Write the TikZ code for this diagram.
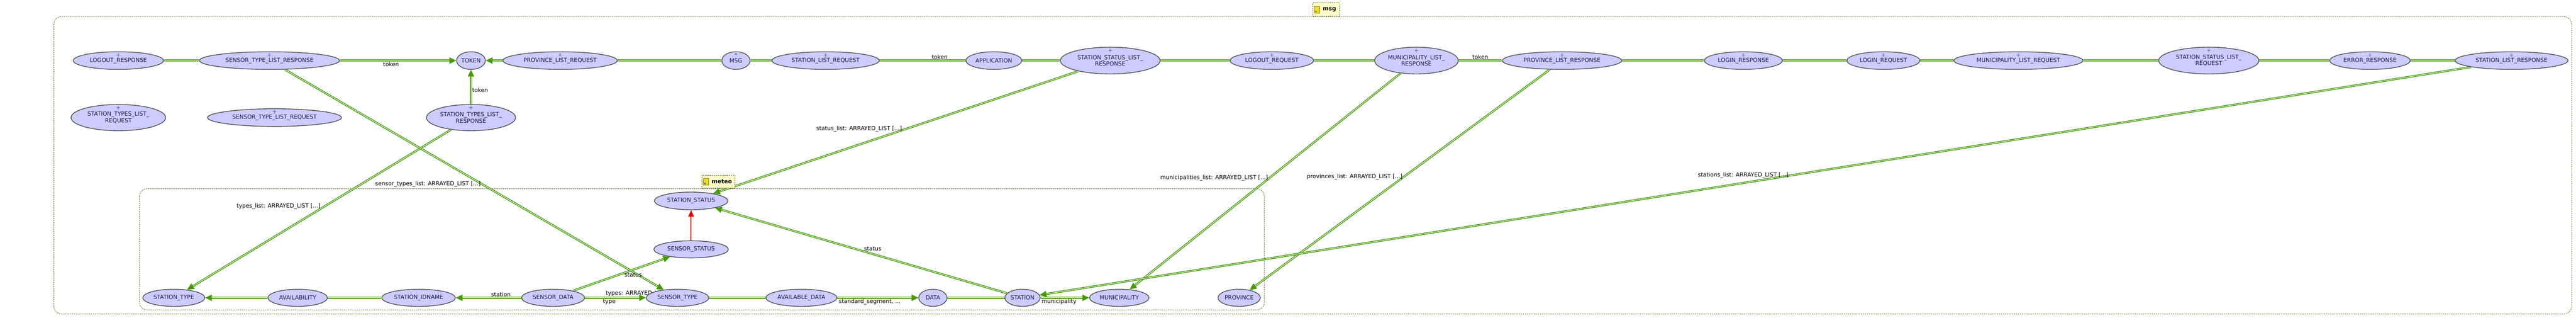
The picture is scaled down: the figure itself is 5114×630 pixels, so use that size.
\documentclass[tikz,border=0pt]{standalone}
\usepackage{fontspec}
\setmainfont{DejaVu Sans}
\usetikzlibrary{shapes.geometric,arrows.meta,backgrounds}

\definecolor{classFill}{RGB}{204,204,255}
\definecolor{classLine}{RGB}{77,77,77}
\definecolor{classText}{RGB}{25,25,85}
\definecolor{markBlue}{RGB}{60,90,180}
\definecolor{linkGreen}{RGB}{68,155,8}
\definecolor{inheritRed}{RGB}{224,0,0}
\definecolor{clusterLine}{RGB}{100,100,20}
\definecolor{tabFill}{RGB}{255,255,204}
\definecolor{folderYellow}{RGB}{240,220,40}
\definecolor{folderLine}{RGB}{150,130,20}

\newcommand\umlfont{\fontsize{6.4}{7.3}\selectfont}
\newcommand\foldericon[1]{%
  \draw[fill=folderYellow, draw=folderLine, line width=0.3pt] ([xshift=0.7mm,yshift=-1.3mm]#1.west) rectangle ++(2mm,2.6mm);
  \fill[markBlue] ([xshift=1.3mm,yshift=-0.7mm]#1.west) circle (0.35mm);}

\tikzset{
  cls/.style={ellipse, draw=classLine, fill=classFill, line width=0.8pt, text=classText, font=\umlfont, inner sep=0.5pt, align=center},
  plusmark/.style={text=markBlue, font=\umlfont, inner sep=0pt},
  link/.style={draw=linkGreen, double=white, double distance=0.55pt, line width=0.85pt},
  ref/.style={link, -{Triangle[length=2.7mm, width=2.5mm]}},
  inherit/.style={draw=inheritRed, line width=1.1pt, -{Triangle[length=2.6mm, width=2.2mm]}},
  elabel/.style={font=\umlfont, text=black, inner sep=1pt},
  cluster/.style={draw=clusterLine, dash pattern=on 1.4pt off 1pt, line width=0.5pt, rounded corners=3mm},
  clustertab/.style={draw=clusterLine, dash pattern=on 1.4pt off 1pt, line width=0.5pt, fill=tabFill, font=\umlfont\bfseries, anchor=south west, inner sep=1pt, align=right},
}

\begin{document}
\begin{tikzpicture}[x=0.2mm, y=-0.2mm]
\useasboundingbox (0,0) rectangle (5114,630);

%% classes: name / x / y / width / height / marker / text
\foreach \Name/\X/\Y/\W/\H/\Mark/\Text in {%
    logoutResp/235/120/179/35/+/{LOGOUT\_RESPONSE},
    sensorTypeListResp/535/120/278/35/+/{SENSOR\_TYPE\_LIST\_RESPONSE},
    token/935/120/57/35/{}/{TOKEN},
    provListReq/1112/120/227/35/+/{PROVINCE\_LIST\_REQUEST},
    msg/1461/120/56/35/*/{MSG},
    stationListReq/1639/120/213/35/+/{STATION\_LIST\_REQUEST},
    application/1973/120/111/35/{}/{APPLICATION},
    stationStatusListResp/2204/120/198/53/+/{STATION\_STATUS\_LIST\_\\RESPONSE},
    logoutReq/2525/120/166/35/+/{LOGOUT\_REQUEST},
    muniListResp/2812/120/166/53/+/{MUNICIPALITY\_LIST\_\\RESPONSE},
    provListResp/3101/120/237/35/+/{PROVINCE\_LIST\_RESPONSE},
    loginResp/3461/120/155/35/+/{LOGIN\_RESPONSE},
    loginReq/3739/120/145/35/+/{LOGIN\_REQUEST},
    muniListReq/4007/120/256/35/+/{MUNICIPALITY\_LIST\_REQUEST},
    stationStatusListReq/4385/120/199/53/+/{STATION\_STATUS\_LIST\_\\REQUEST},
    errorResp/4705/120/160/35/+/{ERROR\_RESPONSE},
    stationListResp/4986/120/224/35/+/{STATION\_LIST\_RESPONSE},
    stationTypesListReq/235/233/188/52/+/{STATION\_TYPES\_LIST\_\\REQUEST},
    sensorTypeListReq/545/233/266/35/+/{SENSOR\_TYPE\_LIST\_REQUEST},
    stationTypesListResp/935/233/177/52/+/{STATION\_TYPES\_LIST\_\\RESPONSE},
    stationStatus/1372/398/146/35/{}/{STATION\_STATUS},
    sensorStatus/1372/494/148/34/{}/{SENSOR\_STATUS},
    stationType/345/590/123/34/{}/{STATION\_TYPE},
    availability/591/590/118/34/{}/{AVAILABILITY},
    stationIdname/831/590/146/34/{}/{STATION\_IDNAME},
    sensorData/1098/590/125/34/{}/{SENSOR\_DATA},
    sensorType/1345/590/124/34/{}/{SENSOR\_TYPE},
    availableData/1591/590/141/34/{}/{AVAILABLE\_DATA},
    data/1852/590/56/34/{}/{DATA},
    station/2030/590/70/34/{}/{STATION},
    municipality/2222/590/118/34/{}/{MUNICIPALITY},
    province/2460/590/82/34/{}/{PROVINCE}%
    }{
  \node[cls, minimum width=\W*0.2mm, minimum height=\H*0.2mm] (\Name) at (\X,\Y) {\Text};
  \node[plusmark] at (\X,{\Y-\H/2+6.5}) {\Mark};
}

%% cluster tabs
\node[clustertab, minimum width=10.6mm, minimum height=5.4mm] (msgTab) at (2606,33) {\hspace{2.6mm}msg};
\foldericon{msgTab}
\node[clustertab, minimum width=13.2mm, minimum height=5mm] (meteoTab) at (1393,373) {\hspace{2.6mm}meteo};
\foldericon{meteoTab}

\begin{scope}[on background layer]
%draw clusters
\draw[cluster] (107,33) rectangle (5105,622);
\draw[cluster] (277,374) rectangle (2510,614);

%% plain links
\foreach \From/\To in {logoutResp/sensorTypeListResp, provListReq/msg, msg/stationListReq,
    application/stationStatusListResp, stationStatusListResp/logoutReq, logoutReq/muniListResp,
    provListResp/loginResp, loginResp/loginReq, loginReq/muniListReq, muniListReq/stationStatusListReq,
    stationStatusListReq/errorResp, errorResp/stationListResp,
    availability/stationIdname, sensorType/availableData, data/station}
  \draw[link] (\From) -- (\To);

\draw[link] (stationListReq) -- node[elabel, pos=0.7, above] {token} (application);
\draw[link] (muniListResp) -- node[elabel, pos=0.5, above] {token} (provListResp);

%% references inside msg
\draw[ref] (sensorTypeListResp) -- node[elabel, pos=0.44, below] {token} (token);
\draw[ref] (provListReq) -- (token);
\draw[ref] (stationTypesListResp) -- node[elabel, pos=0.41, right] {token} (token);

%% references msg -> meteo
\draw[ref] (sensorTypeListResp) -- node[elabel, pos=0.52, left] {sensor\_types\_list: ARRAYED\_LIST [...]} (sensorType);
\draw[ref] (stationTypesListResp) -- node[elabel, pos=0.48, left=3pt] {types\_list: ARRAYED\_LIST [...]} (stationType);
\draw[ref] (stationStatusListResp) -- node[elabel, pos=0.47, left=4pt] {status\_list: ARRAYED\_LIST [...]} (stationStatus);
\draw[ref] (muniListResp) -- node[elabel, pos=0.485, left] {municipalities\_list: ARRAYED\_LIST [...]} (municipality);
\draw[ref] (provListResp) -- node[elabel, pos=0.487, left] {provinces\_list: ARRAYED\_LIST [...]} (province);
\draw[ref] (stationListResp) -- node[elabel, pos=0.476, left] {stations\_list: ARRAYED\_LIST [...]} (station);

%% references inside meteo
\draw[ref] (availability) -- (stationType);
\draw[ref] (sensorData) -- node[elabel, pos=0.31, above] {station} (stationIdname);
\draw[ref] (sensorData) -- node[elabel, pos=0.38, anchor=south west, xshift=-4pt] {types: ARRAYED\_LIST [...]}
                           node[elabel, pos=0.40, below] {type} (sensorType);
\draw[ref] (sensorData) -- node[elabel, pos=0.62, below=2pt] {status} (sensorStatus);
\draw[ref] (availableData) -- node[elabel, pos=0.40, below] {standard\_segment, ...} (data);
\draw[ref] (station) -- node[elabel, pos=0.38, below] {municipality} (municipality);
\draw[ref] (station) -- node[elabel, pos=0.46, above=2pt] {status} (stationStatus);
\draw[inherit] (sensorStatus) -- (stationStatus);
\end{scope}
\end{tikzpicture}
\end{document}
